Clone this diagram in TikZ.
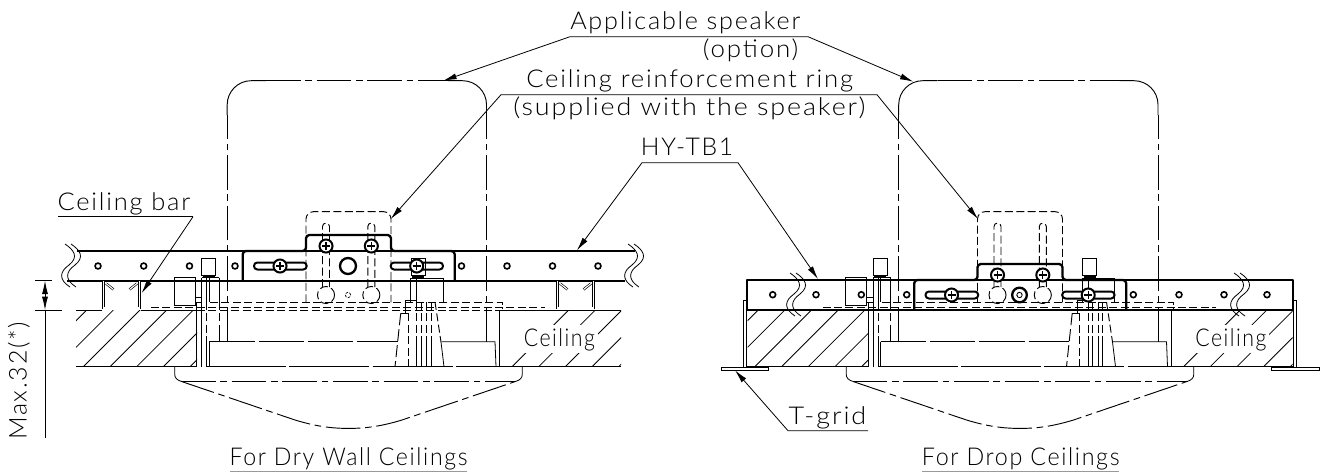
\documentclass[tikz,border=0pt]{standalone}
\usepackage{fontspec}
\usepackage{graphicx}
\setmainfont{Lato Light}[LetterSpace=7]
\usetikzlibrary{arrows.meta}
\newcommand{\fitx}[2]{\resizebox{#1\dimexpr0.75pt\relax}{\height}{#2}}
\tikzset{
  thinl/.style={line width=0.6pt,black},
  thickl/.style={line width=1.75pt,black,line join=round},
  midl/.style={line width=0.85pt,black},
  hid/.style={line width=0.7pt,black,dash pattern=on 6pt off 2.6pt},
  hidlong/.style={line width=0.7pt,black,dash pattern=on 34pt off 3pt},
  phantoml/.style={line width=0.7pt,black,dash pattern=on 26pt off 3.5pt on 5pt off 3.5pt},
  leader/.style={line width=0.6pt,black,{Latex[length=10pt,width=4.5pt]}-{Latex[length=10pt,width=4.5pt]}},
  leaderone/.style={line width=0.6pt,black,-{Latex[length=10pt,width=4.5pt]}},
  lbl/.style={inner sep=0pt,anchor=base west,font=\fontsize{18.4}{20}\selectfont},
  wallpair/.style={line width=0.5pt,black,double=white,double distance=0.8pt},
}
\newcommand{\hatchblock}[3]{%
  \begin{scope}
    \clip (#1,310) rectangle (#2,366.7);
    \foreach \k in {0,...,8} {
      \draw[thinl] ({#3+26.67*\k},366.7) -- ({#3+26.67*\k+56.7},310);
    }
  \end{scope}
}
\newcommand{\wave}[2]{%
  \foreach \d in {0,-6} {
    \draw[midl,line width=0.6pt] ({#1+\d},#2) .. controls ({#1+\d+9},{#2+6}) and ({#1+\d+14},{#2+13}) .. ({#1+\d+4},{#2+21})
      .. controls ({#1+\d-6},{#2+28}) and ({#1+\d-6},{#2+36}) .. ({#1+\d+5},{#2+43});
  }
}
\newcommand{\screwhead}[2]{%
  \draw[thickl,line width=1.5pt,fill=white] (#1,#2) circle (4.9pt);
  \draw[line width=1pt] ({#1-4},#2) -- ({#1+4},#2) ({#1},{#2-4}) -- ({#1},{#2+4});
}
\newcommand{\boltcap}[2]{%
  \draw[thinl] (#1,#2) rectangle ({#1+14},{#2+17});
  \draw[thickl] ({#1+1},{#2+18.5}) -- ({#1+13},{#2+18.5});
}
\newcommand{\keyhole}[1]{%
  \draw[hid,rounded corners=2.6pt] ({#1-3.5},287) -- ({#1-3.5},223) -- ({#1+3.5},223) -- ({#1+3.5},287);
  \draw[hid] (#1,295) circle (6.4pt);
}
\newcommand{\assembly}{%
  \draw[hid,rounded corners=5.5pt] (306,302.3) -- (306,211.7) -- (391,211.7) -- (391,302.3);
  \draw[hid] (210,302.3) -- (502.3,302.3) -- (502.3,309);
  \keyhole{326}\keyhole{371.3}
  \draw[line width=0.5pt,dash pattern=on 2pt off 1pt] (348,295) circle (2pt);
  \draw[phantoml] (227.2,341.7) -- (227.2,115);
  \draw[phantoml] (486.5,341.7) -- (486.5,115);
  \draw[phantoml] (266,80.7) -- (448,80.7);
  \draw[thinl,line width=0.7pt,rounded corners=18pt] (227.2,115) -- (227.2,80.7) -- (266,80.7);
  \draw[thinl,line width=0.7pt,rounded corners=18pt] (448,80.7) -- (486.5,80.7) -- (486.5,115);
  \draw[hidlong] (209.3,341.7) -- (397.7,341.7);
  \draw[thinl] (441.7,341.7) -- (495,341.7) -- (496,366.7);
  \draw[midl] (209.3,341.7) -- (209.3,366.7);
  \draw[line width=0.7pt,dash pattern=on 60pt off 2.5pt] (206,366.7) -- (499.7,366.7);
  \draw[thinl] (174.7,366.7) -- (174.7,374) .. controls (174.7,378) and (177,380) .. (181,381.3);
  \draw[thinl] (522.3,366.7) -- (522.3,374) .. controls (522.3,378) and (520,380) .. (516,381.3);
  \draw[phantoml] (181,381.3) -- (516,381.3);
  \draw[phantoml] (181,381.3) -- (295,420) .. controls (315,426) and (330,428.4) .. (348.5,428.4)
     .. controls (367,428.4) and (382,426) .. (402,420) -- (516,381.3);
  \draw[thinl] (174.3,277.7) rectangle (195,305.3);
  \draw[thinl] (195,297) rectangle (201.8,302);
  \draw[thinl] (201.8,277.7) -- (219.2,277.7) (219.2,277.7) -- (219.2,302);
  \draw[thinl] (196.8,302) -- (196.8,366.7);
  \draw[thinl] (201.8,277.7) -- (201.8,366.7);
  \draw[thinl] (206.8,277.7) -- (206.8,302) (209.2,277.7) -- (209.2,302);
  \draw[hid] (206.8,302) -- (206.8,342);
  \draw[thinl] (206.8,342) -- (206.8,366.7);
  \draw[hid] (219.2,302) -- (219.2,325);
  \draw[thinl] (219.2,325) -- (219.2,341.7);
  \boltcap{201.7}{258.7}
  \draw[thinl] (410.7,302) -- (410.7,278.3) -- (443.3,278.3) -- (443.3,302);
  \draw[midl] (416.7,278.3) -- (416.7,302);
  \draw[thinl] (405.7,313.3) -- (405.7,300) -- (416.7,300);
  \draw[thinl] (400.7,313.3) -- (408.3,313.3);
  \draw[line width=0.7pt,dash pattern=on 9pt off 3pt] (400.7,313.3) -- (395,366.7);
  \draw[hid] (408.3,313.3) -- (408.3,366.7);
  \foreach \xx in {416.7,421,426.7,431} {
    \draw[hid] (\xx,302) -- (\xx,342);
    \draw[thinl] (\xx,342) -- (\xx,366.7);
  }
  \draw[hid] (435,302) -- (441,342);
  \draw[thinl] (441,342) -- (444,366.7);
  \boltcap{411}{258.7}
}
\newcommand{\bracketpart}{%
  \draw[thickl,rounded corners=2.5pt] (242.7,281) -- (242.7,251) -- (306,251) -- (306,235) -- (391,235) -- (391,251) -- (454.7,251) -- (454.7,281);
  \draw[thickl,line width=1.5pt,rounded corners=2.5pt] (254,262.5) rectangle (306.7,269.5);
  \draw[thickl,line width=1.5pt,rounded corners=2.5pt] (390.7,262.5) rectangle (443,269.5);
  \screwhead{280}{266}\screwhead{416.7}{266}
  \screwhead{326}{246}\screwhead{371.3}{246}
}
\begin{document}
\begin{tikzpicture}[x=0.75pt,y=-0.75pt]
\useasboundingbox (0,0) rectangle (1326,472);
\hatchblock{76}{197}{30}
\hatchblock{499.7}{621}{512}
\begin{scope}[shift={(671.5,0)}]
  \hatchblock{76}{197}{30}
  \hatchblock{499.7}{621}{512}
\end{scope}
\draw[thinl] (76,310) -- (102,310) (141,310) -- (197,310) (499.7,310) -- (621,310);
\draw[thinl] (76,366.7) -- (197,366.7) (499.7,366.7) -- (621,366.7);
\draw[thinl] (499.7,310) -- (499.7,366.7);
\draw[hid] (151,307.6) -- (545,307.6);
\draw[hid] (151,310.2) -- (499.7,310.2);
\draw[hid] (822.5,307.6) -- (1216,307.6);
\draw[thinl] (747,366.7) -- (868.5,366.7) (1171.2,366.7) -- (1292.7,366.7);
\draw[thinl] (1171.2,310) -- (1171.2,366.7);
\assembly
\begin{scope}[shift={(671.5,0)}]\assembly\end{scope}
\draw[thickl] (77,251) -- (635,251);
\draw[thickl] (67,281) -- (625,281);
\bracketpart
\draw[thickl] (348,266) circle (6pt);
\foreach \xx in {98,143.7,189.5,235,461.5,507,552.5,598} {
  \draw[line width=1.2pt,fill=white] (\xx,266) circle (2.2pt);
}
\wave{71}{244}
\wave{634}{244}
\draw[wallpair] (103.5,281) -- (103.5,308) -- (139.5,308) -- (139.5,281);
\draw[wallpair] (106,283.5) -- (113.5,289.5) (137,283.5) -- (129.5,289.5);
\draw[wallpair] (557.5,281) -- (557.5,308) -- (593.5,308) -- (593.5,281);
\draw[wallpair] (560,283.5) -- (567.5,289.5) (591,283.5) -- (583.5,289.5);
\draw[thickl] (747,280) rectangle (1292.7,310);
\begin{scope}[shift={(671.5,29)}]
  \bracketpart
  \draw[thickl] (348,266) circle (5.5pt);
  \draw[line width=0.5pt] (348,266) circle (2pt);
\end{scope}
\foreach \xx in {772.7,816,861.3,906.7,1133.3,1179,1224,1267} {
  \draw[line width=1.2pt,fill=white] (\xx,294.7) circle (2.2pt);
}
\wave{796}{273}
\wave{1240}{273}
\draw[thinl] (743.2,367) -- (743.2,300.5) -- (746.4,300.5) -- (746.4,367);
\draw[thinl] (721.7,367) rectangle (768.3,370.2);
\draw[thinl] (1293.6,367) -- (1293.6,300.5) -- (1296.8,300.5) -- (1296.8,367);
\draw[thinl] (1271.7,367) rectangle (1319,370.2);
\coordinate (dimT) at (45,280.7);
\coordinate (dimB) at (45,310);
\coordinate (dimM) at (45,295);
\coordinate (dimE) at (45,438);
\draw[thinl] (35,280.7) -- (52,280.7) (35,310) -- (62,310);
\draw[leaderone] (dimM) -- (dimT);
\draw[leaderone] (dimM) -- (dimB);
\draw[thinl] (dimB) -- (dimE);
\node[lbl,rotate=90] (maxlabel) at (26.7,440) {\fitx{118}{Max.32(*)}};
\node[lbl] (applic) at (570,29.3) {\fitx{230}{Applicable speaker}};
\node[lbl] (option) at (702.7,57.3) {\fitx{95.3}{(option)}};
\coordinate (asA) at (570,36.7); \coordinate (asB) at (808,36.7);
\coordinate (asL) at (443.3,80.7); \coordinate (asR) at (913.3,81.7);
\draw[leader] (asL) -- (asA) -- (asB) -- (asR);
\node[lbl] (ringa) at (526,87) {\fitx{326.7}{Ceiling reinforcement ring}};
\node[lbl] (ringb) at (513,115) {\fitx{352}{(supplied with the speaker)}};
\coordinate (rgA) at (501,94.7); \coordinate (rgB) at (877,94.7);
\coordinate (rgL) at (390.7,219); \coordinate (rgR) at (978,219);
\draw[leader] (rgL) -- (rgA) -- (rgB) -- (rgR);
\node[lbl] (hy) at (640.7,155.7) {\fitx{92.3}{HY-TB1}};
\coordinate (hyA) at (642,162.7); \coordinate (hyB) at (738,162.7);
\coordinate (hyL) at (577,250.3); \coordinate (hyR) at (818,279);
\draw[leader] (hyL) -- (hyA) -- (hyB) -- (hyR);
\node[lbl] (cbar) at (57.3,210) {\fitx{132.7}{Ceiling bar}};
\coordinate (cbA) at (193,216.7); \coordinate (cbB) at (58,216.7); \coordinate (cbT) at (141.7,293);
\draw[thinl] (cbB) -- (cbA);
\draw[leaderone] (cbA) -- (cbT);
\node[lbl] (tgrid) at (788.3,424) {\fitx{77.7}{T-grid}};
\coordinate (tgA) at (868,430.7); \coordinate (tgB) at (788,430.7); \coordinate (tgT) at (735,370.3);
\draw[leaderone] (tgA) -- (tgB) -- (tgT);
\node[lbl,fill=white,inner sep=2pt] (ceilA) at (521,346) {\fitx{71}{Ceiling}};
\node[lbl,fill=white,inner sep=2pt] (ceilB) at (1192.5,346) {\fitx{71}{Ceiling}};
\node[lbl] (dry) at (229.3,465.7) {\fitx{238}{For Dry Wall Ceilings}};
\node[lbl] (drop) at (921.7,465.7) {\fitx{197.6}{For Drop Ceilings}};
\draw[line width=0.6pt,black!40] (230,471.7) -- (467,471.7) (922,471.7) -- (1119,471.7);
\end{tikzpicture}
\end{document}
